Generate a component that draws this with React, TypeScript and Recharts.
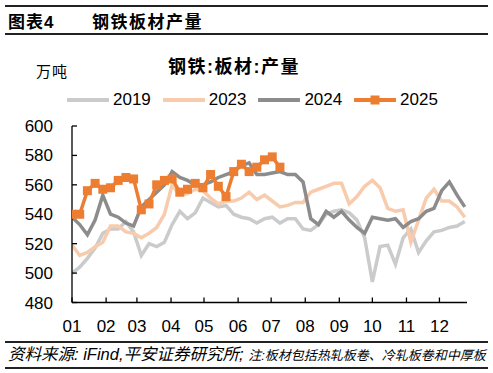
import { LineChart, Line, XAxis, YAxis } from 'recharts';

// weekly series, week 1..52 of each year (万吨)
const weeks = [
  1, 2, 3, 4, 5, 6, 7, 8, 9, 10, 11, 12, 13, 14, 15, 16, 17, 18, 19, 20, 21, 22, 23, 24, 25, 26,
  27, 28, 29, 30, 31, 32, 33, 34, 35, 36, 37, 38, 39, 40, 41, 42, 43, 44, 45, 46, 47, 48, 49, 50, 51, 52,
];

const v2019 = [
  500, 504, 510, 517, 527, 530, 530, 535, 528, 512, 520, 518, 521, 533, 542, 537, 541, 551, 548, 545,
  546, 540, 538, 537, 534, 537, 538, 534, 537, 537, 530, 529, 533, 540, 542, 543, 541, 536, 524, 494,
  518, 519, 506, 524, 530, 514, 522, 528, 529, 531, 532, 535,
];

const v2023 = [
  519, 512, 514, 518, 521, 532, 532, 528, 527, 524, 527, 531, 540, 560, 553, 554, 557, 556, 551, 547,
  549, 549, 551, 555, 550, 553, 549, 545, 546, 548, 548, 555, 557, 559, 561, 561, 547, 552, 559, 563,
  558, 544, 542, 543, 521, 536, 551, 557, 549, 549, 545, 538,
];

const v2024 = [
  538, 533, 526, 536, 553, 540, 538, 534, 532, 545, 550, 555, 560, 569, 565, 563, 560, 560, 562, 565,
  567, 569, 573, 575, 567, 567, 568, 569, 567, 567, 562, 537, 533, 542, 538, 542, 536, 531, 527, 538,
  537, 536, 537, 531, 535, 537, 542, 544, 556, 562, 553, 545,
];

const v2025 = [
  540, 540, 556, 561, 557, 558, 563, 565, 564, 543, 547, 560, 563, 564, 555, 557, 561, 558, 567, 559,
  552, 569, 574, 569, 572, 577, 579, 572,
];

// month starts expressed in weeks
const monthTicks = [1, 5.43, 9.43, 13.86, 18.14, 22.57, 26.86, 31.29, 35.71, 40, 44.43, 48.71];
const monthLabels = ['01', '02', '03', '04', '05', '06', '07', '08', '09', '10', '11', '12'];
const yTicks = [480, 500, 520, 540, 560, 580, 600];

const series = [
  { key: 'y2019', name: '2019', color: '#CBCBCB' },
  { key: 'y2023', name: '2023', color: '#F8CBAD' },
  { key: 'y2024', name: '2024', color: '#8C8C8C' },
  { key: 'y2025', name: '2025', color: '#ED7D31' },
];

const data = weeks.map((w, i) => ({
  week: w,
  y2019: v2019[i],
  y2023: v2023[i],
  y2024: v2024[i],
  y2025: i < v2025.length ? v2025[i] : null,
}));

const FONT = '"Liberation Sans", Arial, "Noto Sans CJK SC", sans-serif';

const SquareDot = (props: any) => {
  const { cx, cy, index } = props;
  if (cx == null || cy == null) return <g key={index} />;
  return <rect key={index} x={cx - 4.5} y={cy - 4.5} width={9} height={9} fill="#ED7D31" />;
};

export default function App() {
  return (
    <div
      style={{
        position: 'absolute',
        left: 0,
        top: 0,
        width: 493,
        height: 373,
        background: '#fff',
        fontFamily: FONT,
        color: '#000',
        overflow: 'hidden',
      }}
    >
      {/* header */}
      <div style={{ position: 'absolute', left: 5, top: 5, width: 483, height: 2, background: '#222' }} />
      <div style={{ position: 'absolute', left: 8, top: 13, fontSize: 17, fontWeight: 'bold', lineHeight: '20px', letterSpacing: 1 }}>
        图表4
      </div>
      <div style={{ position: 'absolute', left: 92, top: 13, fontSize: 17, fontWeight: 'bold', lineHeight: '20px', letterSpacing: 1.5 }}>
        钢铁板材产量
      </div>
      <div style={{ position: 'absolute', left: 5, top: 33, width: 483, height: 1.5, background: '#222' }} />

      <div style={{ position: 'absolute', left: 0, width: 468, top: 56, textAlign: 'center', fontSize: 18, fontWeight: 'bold', lineHeight: '22px', letterSpacing: 1.5 }}>
        钢铁:板材:产量
      </div>
      <div style={{ position: 'absolute', left: 36, top: 62, fontSize: 15, lineHeight: '20px', letterSpacing: 1 }}>万吨</div>

      {/* legend */}
      {series.map((s, i) => (
        <div key={s.key} style={{ position: 'absolute', left: 67 + i * 95.7, top: 90, height: 20, display: 'flex', alignItems: 'center' }}>
          <svg width={42} height={12}>
            <line x1={1} y1={6} x2={41} y2={6} stroke={s.color} strokeWidth={4} strokeLinecap="round" />
            {s.key === 'y2025' && <rect x={16.5} y={1.5} width={9} height={9} fill={s.color} />}
          </svg>
          <span style={{ fontSize: 17, marginLeft: 4 }}>{s.name}</span>
        </div>
      ))}

      <div style={{ position: 'absolute', left: 0, top: 0 }}>
        <LineChart width={493} height={373} data={data} margin={{ top: 126, right: 26, bottom: 0, left: 0 }}>
          <XAxis
            dataKey="week"
            type="number"
            domain={[1, 52.29]}
            ticks={monthTicks}
            tickFormatter={(v: number) => monthLabels[monthTicks.indexOf(v)] ?? ''}
            height={70.5}
            interval={0}
            tickSize={-5}
            tickMargin={22}
            stroke="#000"
            axisLine={{ stroke: '#000', strokeWidth: 1.3 }}
            tickLine={{ stroke: '#000', strokeWidth: 1.3 }}
            tick={{ fontSize: 17, fill: '#000', fontFamily: FONT }}
            allowDataOverflow
          />
          <YAxis
            type="number"
            domain={[480, 600]}
            ticks={yTicks}
            width={72}
            interval={0}
            tickSize={-5}
            tickMargin={24}
            axisLine={{ stroke: '#000', strokeWidth: 1.3 }}
            tickLine={{ stroke: '#000', strokeWidth: 1.3 }}
            tick={{ fontSize: 17, fill: '#000', fontFamily: FONT }}
          />
          {series.map((s) => (
            <Line
              key={s.key}
              type="linear"
              dataKey={s.key}
              name={s.name}
              stroke={s.color}
              strokeWidth={3.5}
              dot={s.key === 'y2025' ? SquareDot : false}
              activeDot={false}
              connectNulls={false}
              isAnimationActive={false}
            />
          ))}
        </LineChart>
      </div>

      {/* footer */}
      <div style={{ position: 'absolute', left: 5, top: 341, width: 483, height: 1.5, background: '#222' }} />
      <div style={{ position: 'absolute', left: 8, top: 344, lineHeight: '20px', fontStyle: 'italic', whiteSpace: 'nowrap' }}>
        <span style={{ fontSize: 16.5 }}>资料来源: iFind,平安证券研究所; </span>
        <span style={{ fontSize: 13 }}>注:板材包括热轧板卷、冷轧板卷和中厚板</span>
      </div>
      <div style={{ position: 'absolute', left: 5, top: 367, width: 483, height: 1.5, background: '#222' }} />
    </div>
  );
}
